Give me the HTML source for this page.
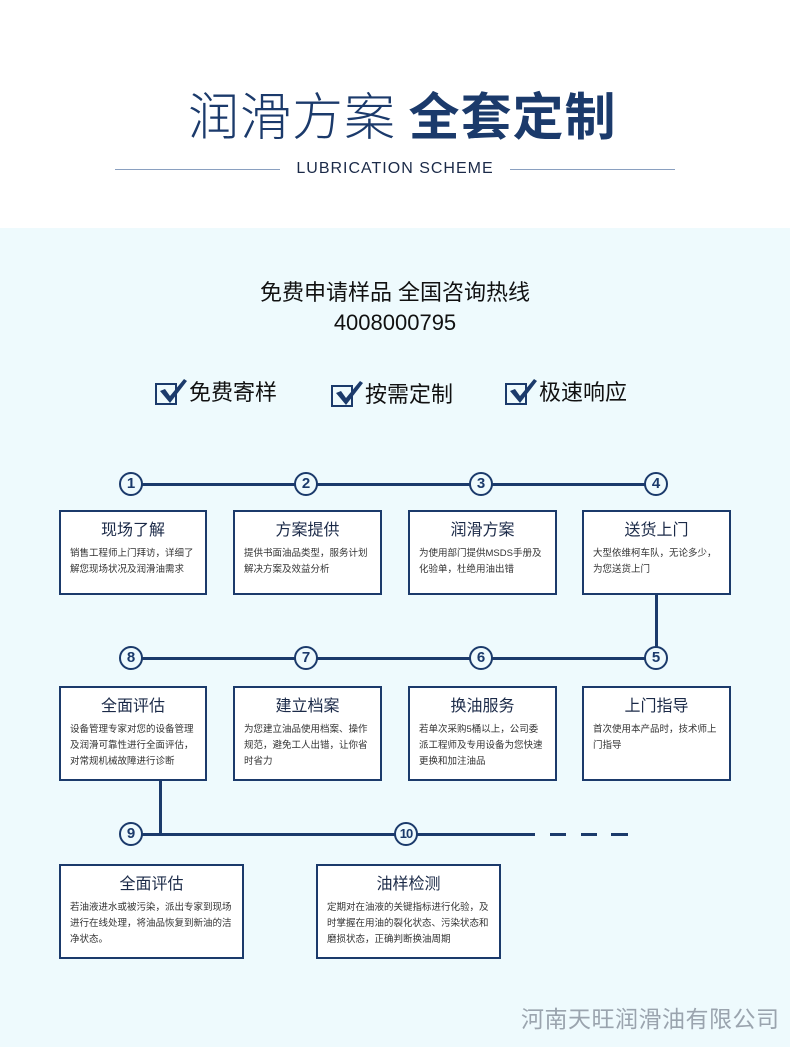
<!DOCTYPE html>
<html><head><meta charset="utf-8"><style>
body{margin:0;width:790px;height:1047px;position:relative;overflow:hidden;font-family:"Liberation Sans","Noto Sans CJK SC",sans-serif;background:#eefafd}
.top{position:absolute;left:0;top:0;width:790px;height:228px;background:#fff}
.a{position:absolute}
.box{position:absolute;background:#fff;border:2px solid #1b3a6b;box-sizing:border-box;color:#1b2a48}
.box h3{margin:8px 0 0;text-align:center;font-size:16px;font-weight:normal;line-height:22px}
.box p{margin:4px 8px 0 9px;font-size:9.5px;line-height:16px;color:#333}
.c{position:absolute;width:20px;height:20px;border:2px solid #1b3a6b;border-radius:50%;background:#eefafd;color:#1b3a6b;font-weight:bold;font-size:15px;line-height:20px;text-align:center;box-sizing:content-box;font-family:"Liberation Sans",sans-serif}
.l{position:absolute;background:#1b3a6b}
.chk{display:inline-block;width:18px;height:18px;border:2px solid #1b3a6b;position:relative;vertical-align:middle;margin-right:12px}
</style></head><body>
<div class="top"></div>
<div class="a" style="left:188px;top:76px;white-space:nowrap;font-size:51px;color:#1b3a6b;letter-spacing:1px;font-family:'Noto Sans CJK SC',sans-serif"><span style="font-weight:300">润滑方案</span> <b>全套定制</b></div>
<div class="l" style="left:115px;top:169px;width:165px;height:1px;background:#8aa0c0"></div>
<div class="l" style="left:510px;top:169px;width:165px;height:1px;background:#8aa0c0"></div>
<div class="a" style="left:280px;top:160px;width:230px;text-align:center;font-size:16px;color:#1b2a48;letter-spacing:1px">LUBRICATION SCHEME</div>
<div class="a" style="left:0;top:278px;width:790px;text-align:center;font-size:22px;color:#111;line-height:30px">免费申请样品 全国咨询热线<br>4008000795</div>
<div class="a" style="left:155px;top:375px;font-size:22px;color:#111"><span class="chk"></span>免费寄样</div>
<div class="a" style="left:331px;top:377px;font-size:22px;color:#111"><span class="chk"></span>按需定制</div>
<div class="a" style="left:505px;top:375px;font-size:22px;color:#111"><span class="chk"></span>极速响应</div>
<svg class="a" style="left:0;top:0" width="790" height="420"><g fill="#1b3a6b"><path d="M160 391 l5 -2 l5 7 l14 -17 l3 2 l-17 22z"/><path d="M336 393 l5 -2 l5 7 l14 -17 l3 2 l-17 22z"/><path d="M510 391 l5 -2 l5 7 l14 -17 l3 2 l-17 22z"/></g></svg>

<div class="l" style="left:131px;top:483px;width:525px;height:3px"></div>
<div class="l" style="left:655px;top:594px;width:3px;height:64px"></div>
<div class="l" style="left:131px;top:657px;width:525px;height:3px"></div>
<div class="l" style="left:159px;top:780px;width:3px;height:55px"></div>
<div class="l" style="left:131px;top:833px;width:404px;height:3px"></div>
<div class="l" style="left:550px;top:833px;width:16px;height:3px"></div>
<div class="l" style="left:581px;top:833px;width:16px;height:3px"></div>
<div class="l" style="left:611px;top:833px;width:17px;height:3px"></div>

<div class="c" style="left:119px;top:472px">1</div>
<div class="c" style="left:294px;top:472px">2</div>
<div class="c" style="left:469px;top:472px">3</div>
<div class="c" style="left:644px;top:472px">4</div>
<div class="c" style="left:119px;top:646px">8</div>
<div class="c" style="left:294px;top:646px">7</div>
<div class="c" style="left:469px;top:646px">6</div>
<div class="c" style="left:644px;top:646px">5</div>
<div class="c" style="left:119px;top:822px">9</div>
<div class="c" style="left:394px;top:822px;font-size:13px;letter-spacing:-1px">10</div>

<div class="box" style="left:59px;top:510px;width:148px;height:85px"><h3>现场了解</h3><p>销售工程师上门拜访，详细了解您现场状况及润滑油需求</p></div>
<div class="box" style="left:233px;top:510px;width:149px;height:85px"><h3>方案提供</h3><p>提供书面油品类型，服务计划解决方案及效益分析</p></div>
<div class="box" style="left:408px;top:510px;width:149px;height:85px"><h3>润滑方案</h3><p>为使用部门提供MSDS手册及化验单，杜绝用油出错</p></div>
<div class="box" style="left:582px;top:510px;width:149px;height:85px"><h3>送货上门</h3><p>大型依维柯车队，无论多少，为您送货上门</p></div>
<div class="box" style="left:59px;top:686px;width:148px;height:95px"><h3>全面评估</h3><p>设备管理专家对您的设备管理及润滑可靠性进行全面评估，对常规机械故障进行诊断</p></div>
<div class="box" style="left:233px;top:686px;width:149px;height:95px"><h3>建立档案</h3><p>为您建立油品使用档案、操作规范，避免工人出错，让你省时省力</p></div>
<div class="box" style="left:408px;top:686px;width:149px;height:95px"><h3>换油服务</h3><p>若单次采购5桶以上，公司委派工程师及专用设备为您快速更换和加注油品</p></div>
<div class="box" style="left:582px;top:686px;width:149px;height:95px"><h3>上门指导</h3><p>首次使用本产品时，技术师上门指导</p></div>
<div class="box" style="left:59px;top:864px;width:185px;height:95px"><h3>全面评估</h3><p>若油液进水或被污染，派出专家到现场进行在线处理，将油品恢复到新油的洁净状态。</p></div>
<div class="box" style="left:316px;top:864px;width:185px;height:95px"><h3>油样检测</h3><p>定期对在油液的关键指标进行化验，及时掌握在用油的裂化状态、污染状态和磨损状态，正确判断换油周期</p></div>
<div class="a" style="left:521px;top:1000px;white-space:nowrap;font-size:23px;color:#9aa4ae;letter-spacing:0.5px">河南天旺润滑油有限公司</div>
</body></html>
